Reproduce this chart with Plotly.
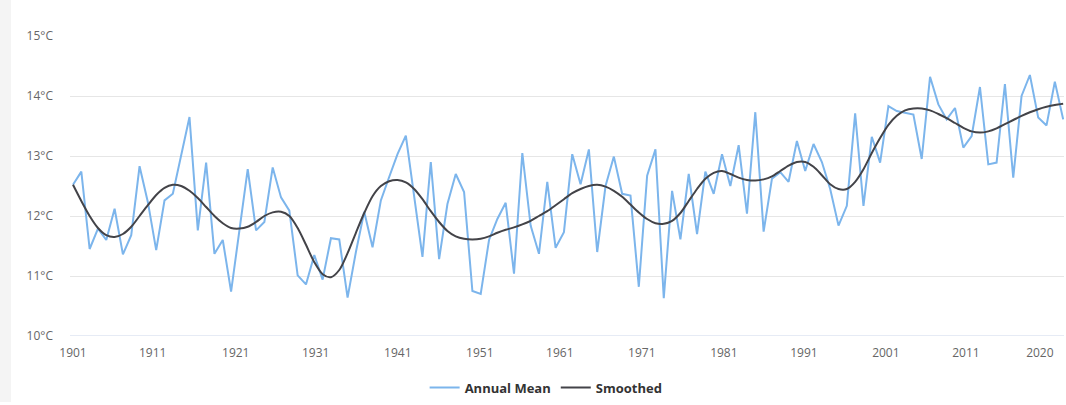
import plotly.graph_objects as go

years = list(range(1901, 2021))

annual_mean = [
    12.52, 12.74, 11.45, 11.79, 11.60, 12.12, 11.36, 11.68, 12.83, 12.23,
    11.43, 12.26, 12.37, 13.03, 13.65, 11.76, 12.89, 11.37, 11.60, 10.74,
    11.80, 12.78, 11.76, 11.90, 12.81, 12.31, 12.09, 11.01, 10.86, 11.35,
    10.94, 11.63, 11.61, 10.64, 11.40, 12.07, 11.48, 12.26, 12.65, 13.03,
    13.34, 12.30, 11.32, 12.90, 11.28, 12.20, 12.70, 12.40, 10.75, 10.70,
    11.60, 11.95, 12.22, 11.04, 13.05, 11.84, 11.37, 12.57, 11.47, 11.73,
    13.03, 12.53, 13.11, 11.40, 12.50, 12.99, 12.37, 12.34, 10.82, 12.67,
    13.11, 10.63, 12.42, 11.61, 12.70, 11.70, 12.74, 12.37, 13.03, 12.50,
    13.18, 12.04, 13.73, 11.74, 12.62, 12.73, 12.57, 13.25, 12.75, 13.20,
    12.90, 12.45, 11.84, 12.17, 13.71, 12.17, 13.32, 12.89, 13.83, 13.75,
    13.72, 13.69, 12.95, 14.32, 13.86, 13.61, 13.80, 13.14, 13.33, 14.15,
    12.86, 12.89, 14.20, 12.64, 14.00, 14.35, 13.64, 13.51, 14.24, 13.61,
]

smoothed = [
    12.52, 12.25, 12.00, 11.80, 11.68, 11.65, 11.70, 11.82, 12.00, 12.18,
    12.35, 12.47, 12.52, 12.50, 12.42, 12.30, 12.15, 12.00, 11.88, 11.80,
    11.79, 11.82, 11.90, 12.00, 12.06, 12.07, 12.00, 11.80, 11.52, 11.23,
    11.03, 10.98, 11.10, 11.38, 11.72, 12.05, 12.33, 12.50, 12.58, 12.60,
    12.56, 12.45, 12.28, 12.08, 11.90, 11.75, 11.66, 11.62, 11.61, 11.62,
    11.66, 11.72, 11.77, 11.81, 11.86, 11.92, 12.00, 12.08, 12.18, 12.28,
    12.38, 12.45, 12.50, 12.52, 12.49, 12.42, 12.32, 12.19, 12.06, 11.95,
    11.88, 11.87, 11.92, 12.05, 12.25, 12.45, 12.62, 12.72, 12.75, 12.70,
    12.64, 12.60, 12.59, 12.61, 12.66, 12.75, 12.84, 12.90, 12.90, 12.82,
    12.68, 12.53, 12.45, 12.45, 12.57, 12.78, 13.05, 13.30, 13.52, 13.67,
    13.76, 13.79, 13.79, 13.76, 13.70, 13.63, 13.55, 13.47, 13.41, 13.39,
    13.41, 13.46, 13.53, 13.60, 13.67, 13.73, 13.78, 13.82, 13.85, 13.87,
]

x_tick_labels = ["1901", "1911", "1921", "1931", "1941", "1951", "1961",
                 "1971", "1981", "1991", "2001", "2011", "2020"]
# positions where the reference draws those labels along the year axis
x_tick_positions = [1901.0, 1910.58, 1920.56, 1930.17, 1940.03, 1949.89, 1959.50,
                    1969.36, 1979.22, 1988.84, 1998.69, 2008.31, 2017.20]
y_ticks = [10, 11, 12, 13, 14, 15]
y_tick_labels = ["10°C", "11°C", "12°C", "13°C", "14°C", "15°C"]

fig = go.Figure()
fig.add_trace(go.Scatter(
    x=years, y=annual_mean, mode="lines", name="Annual Mean",
    line=dict(color="#7cb5ec", width=2),
))
fig.add_trace(go.Scatter(
    x=years, y=smoothed, mode="lines", name="Smoothed",
    line=dict(color="#434348", width=2, shape="spline", smoothing=0.8),
))

font_family = "Open Sans, DejaVu Sans, sans-serif"

fig.update_layout(
    width=1066, height=405,
    margin=dict(l=70, r=2, t=36, b=67),
    paper_bgcolor="white", plot_bgcolor="white",
    font=dict(family=font_family, size=12, color="#666666"),
    showlegend=True,
    legend=dict(
        orientation="h", x=0.479, xanchor="center", y=-0.172, yanchor="middle",
        font=dict(family=font_family, size=13, color="#333333", weight="bold"),
        bgcolor="rgba(0,0,0,0)",
    ),
    xaxis=dict(
        range=[1900.64, 2020.1],
        tickmode="array", tickvals=x_tick_positions, ticktext=x_tick_labels,
        showgrid=False, zeroline=False, showline=False, ticks="",
        ticklabelstandoff=8,
        tickfont=dict(size=12, color="#666666"),
    ),
    yaxis=dict(
        range=[10, 15],
        tickmode="array", tickvals=y_ticks, ticktext=y_tick_labels,
        showgrid=True, gridcolor="#e6e6e6", gridwidth=1,
        zeroline=False, showline=False, ticks="",
        ticklabelstandoff=16,
        tickfont=dict(size=12, color="#666666"),
    ),
    shapes=[
        dict(type="line", xref="paper", yref="y", x0=0, x1=1, y0=10, y1=10,
             line=dict(color="#ccd6eb", width=1)),
        dict(type="rect", xref="paper", yref="paper", x0=-0.0705, x1=-0.0594,
             y0=-0.22, y1=1.12, fillcolor="#f4f4f4", line=dict(width=0), layer="below"),
    ],
)

fig.write_html("out.html", config={"displayModeBar": False},
               post_script="document.body.style.margin='0';")
